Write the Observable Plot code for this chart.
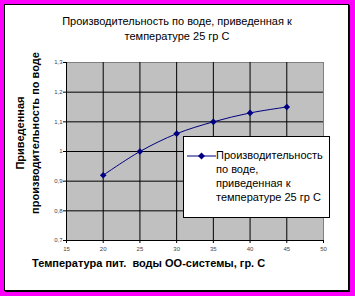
<!DOCTYPE html>
<html><head><meta charset="utf-8">
<script src="https://cdn.jsdelivr.net/npm/d3@7"></script>
<script src="https://cdn.jsdelivr.net/npm/@observablehq/plot@0.6"></script>
<style>
body{margin:0;background:#ff00ff;width:355px;height:296px;overflow:hidden;position:relative;font-family:"Liberation Sans",Arial,sans-serif;}
#box{position:absolute;left:4px;top:4px;width:343px;height:285px;background:#fff;border:1px solid #000;box-shadow:1px 1px 0 #000;}
#chart{position:absolute;left:0;top:0;}
#title{position:absolute;left:0;top:14px;width:354px;text-align:center;font-size:11px;line-height:15px;color:#000;}
#xtitle{position:absolute;left:32px;top:256px;font-size:11px;font-weight:bold;line-height:14px;white-space:pre;}
#ytitle{position:absolute;width:220px;height:30px;left:-82px;top:118px;transform:rotate(-90deg);text-align:center;font-size:11px;font-weight:bold;line-height:15px;}
#legend{position:absolute;left:183px;top:136px;width:147px;height:82px;box-sizing:border-box;background:#fff;border:1px solid #000;}
#legend svg{position:absolute;left:2px;top:13px;}
#legtext{position:absolute;left:32px;top:11px;font-size:11px;line-height:14px;}
</style></head>
<body>
<div id="box"></div>
<div id="chart"></div>
<div id="title">Производительность по воде, приведенная к<br>температуре 25 гр С</div>
<div id="ytitle">Приведенная<br>производительность по воде</div>
<div id="xtitle">Температура пит.  воды ОО-системы, гр. С</div>
<div id="legend">
<svg width="32" height="12"><line x1="1" y1="6" x2="30" y2="6" stroke="#000080" stroke-width="1"/><path d="M15.5,2.5L19,6L15.5,9.5L12,6Z" fill="#000080"/></svg>
<div id="legtext">Производительность<br>по воде,<br>приведенная к<br>температуре 25 гр С</div>
</div>
<script>
const temps = [20, 25, 30, 35, 40, 45];
const productivity = [0.92, 1.00, 1.06, 1.10, 1.13, 1.15];
const xTicks = [15, 20, 25, 30, 35, 40, 45, 50];
const yTicks = [0.7, 0.8, 0.9, 1.0, 1.1, 1.2, 1.3];

const data = temps.map((t, i) => ({t, v: productivity[i]}));
const fmt = d => String(+d.toFixed(1)).replace(".", ",");

const chart = Plot.plot({
  width: 355, height: 296,
  marginLeft: 66, marginRight: 32, marginTop: 62, marginBottom: 56,
  style: {background: "transparent", fontFamily: "Liberation Sans, Arial, sans-serif"},
  x: {domain: [15, 50], ticks: xTicks},
  y: {domain: [0.7, 1.3], ticks: yTicks},
  marks: [
    Plot.frame({fill: "#c0c0c0", stroke: "#808080"}),
    Plot.gridX(xTicks.slice(1, -1), {stroke: "#000", strokeOpacity: 1}),
    Plot.gridY(yTicks.slice(1, -1), {stroke: "#000", strokeOpacity: 1}),
    Plot.axisX({ticks: xTicks, tickSize: 3, tickPadding: 3, fontSize: 6, fill: "#444", label: null}),
    Plot.axisY({ticks: yTicks, tickSize: 3, tickPadding: 1, fontSize: 6, fill: "#444", label: null, tickFormat: fmt}),
    Plot.ruleX([15], {stroke: "#000"}),
    Plot.ruleY([0.7], {stroke: "#000"}),
    Plot.line(data, {x: "t", y: "v", stroke: "#000080", strokeWidth: 1, curve: "catmull-rom"}),
    Plot.dot(data, {x: "t", y: "v", symbol: "diamond2", r: 3, fill: "#000080", stroke: "none"})
  ]
});
document.getElementById("chart").appendChild(chart);
</script>
</body></html>
